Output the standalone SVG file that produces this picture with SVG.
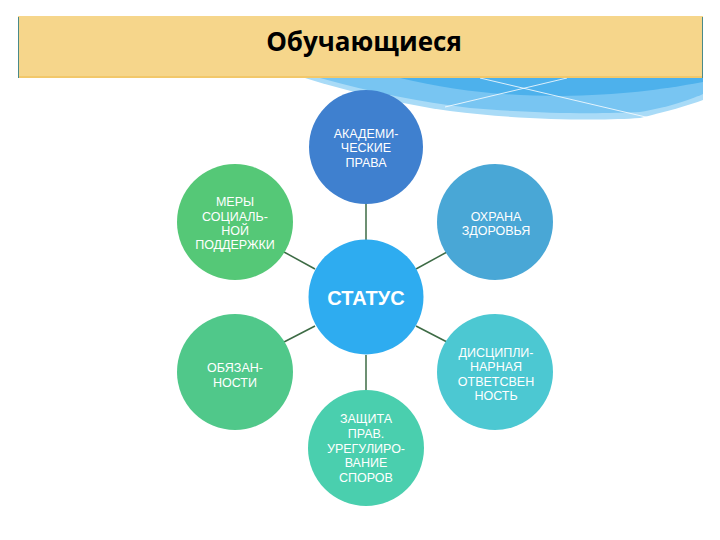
<svg xmlns="http://www.w3.org/2000/svg" width="720" height="540" viewBox="0 0 720 540">
<style>
.lbl{font-family:"Liberation Sans",Arial,sans-serif;font-size:12.5px;fill:#ffffff;text-anchor:middle}
.big{font-family:"Liberation Sans",Arial,sans-serif;font-size:20px;font-weight:bold;fill:#ffffff;text-anchor:middle}
.title{font-family:"Open Sans","DejaVu Sans",sans-serif;font-size:26px;font-weight:bold;fill:#000000;text-anchor:middle}
.conn{stroke:#3d6b45;stroke-width:1.5;fill:none}
</style>
<rect x="0" y="0" width="720" height="540" fill="#ffffff"/>
<g id="swoosh">
<path d="M305,78 C350,92 400,104 450,111 C520,120 600,121 640,118 C665,112 690,105 703,100 L703,78 Z" fill="#a9dbf7"/>
<path d="M320,78 C370,92 420,102 470,108 C540,114 600,114 640,112 C665,108 690,100 703,94 L703,78 Z" fill="#78c5f2"/>
<path d="M400,78 C450,90 500,96 560,96 C620,95 660,90 703,82 L703,78 Z" fill="#4db1ec"/>
<path d="M480,78 L650,118 M567,78 L445,107" stroke="#ffffff" stroke-width="0.8" fill="none"/>
</g>
<g id="header">
<rect x="18" y="16" width="685" height="62" fill="#f6d68b"/>
<rect x="18" y="76" width="685" height="2" fill="#f2c86a"/>
<line x1="18.5" y1="17" x2="18.5" y2="78" stroke="#4a8a8a" stroke-width="1"/>
<line x1="702.5" y1="17" x2="702.5" y2="78" stroke="#4a8a8a" stroke-width="1"/>
<text class="title" x="364" y="51">Обучающиеся</text>
</g>
<g id="connectors">
<line class="conn" x1="366" y1="204" x2="366" y2="240"/>
<line class="conn" x1="366" y1="355" x2="366" y2="391"/>
<line class="conn" x1="284" y1="252" x2="315" y2="269"/>
<line class="conn" x1="416" y1="269" x2="447" y2="252"/>
<line class="conn" x1="284" y1="342" x2="315" y2="326"/>
<line class="conn" x1="416" y1="326" x2="447" y2="342"/>
</g>
<g id="node-academic">
<circle cx="366" cy="147" r="57" fill="#3f80cf"/>
<text class="lbl" x="366" y="138">АКАДЕМИ-</text>
<text class="lbl" x="366" y="152">ЧЕСКИЕ</text>
<text class="lbl" x="366" y="167">ПРАВА</text>
</g>
<g id="node-social">
<circle cx="235" cy="222" r="58" fill="#55c877"/>
<text class="lbl" x="235" y="206">МЕРЫ</text>
<text class="lbl" x="235" y="221">СОЦИАЛЬ-</text>
<text class="lbl" x="235" y="235">НОЙ</text>
<text class="lbl" x="235" y="249">ПОДДЕРЖКИ</text>
</g>
<g id="node-health">
<circle cx="495" cy="222" r="58" fill="#49a7d6"/>
<text class="lbl" x="496" y="221">ОХРАНА</text>
<text class="lbl" x="496" y="235">ЗДОРОВЬЯ</text>
</g>
<g id="node-status">
<circle cx="366" cy="297" r="57.5" fill="#2eacf0"/>
<text class="big" x="366" y="305">СТАТУС</text>
</g>
<g id="node-duties">
<circle cx="235" cy="372" r="58" fill="#50c88a"/>
<text class="lbl" x="235" y="372">ОБЯЗАН-</text>
<text class="lbl" x="235" y="387">НОСТИ</text>
</g>
<g id="node-discipline">
<circle cx="495" cy="372" r="58" fill="#4cc8d2"/>
<text class="lbl" x="496" y="357">ДИСЦИПЛИ-</text>
<text class="lbl" x="496" y="371">НАРНАЯ</text>
<text class="lbl" x="496" y="386">ОТВЕТСВЕН</text>
<text class="lbl" x="496" y="400">НОСТЬ</text>
</g>
<g id="node-protection">
<circle cx="366" cy="448" r="58" fill="#4acfae"/>
<text class="lbl" x="366" y="423">ЗАЩИТА</text>
<text class="lbl" x="366" y="438">ПРАВ.</text>
<text class="lbl" x="366" y="453">УРЕГУЛИРО-</text>
<text class="lbl" x="366" y="467">ВАНИЕ</text>
<text class="lbl" x="366" y="482">СПОРОВ</text>
</g>
</svg>
